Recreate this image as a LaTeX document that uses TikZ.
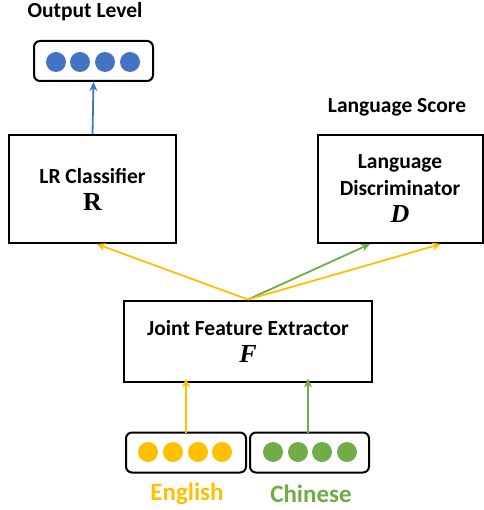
\documentclass[tikz,border=0pt]{standalone}
\usepackage{amsmath,amssymb}
\usepackage{fontspec}
\setmainfont{Carlito}
\newfontfamily\symserif{Liberation Serif}
\usetikzlibrary{arrows.meta}

\definecolor{outblue}{HTML}{4472C4}
\definecolor{enyellow}{HTML}{FFC000}
\definecolor{zhgreen}{HTML}{70AD47}

\newcommand{\modsym}[1]{{\symserif\fontsize{26}{27}\selectfont\bfseries #1}}

\tikzset{
  block/.style={draw, line width=2pt, minimum width=#1, align=center, font=\fontsize{21.5}{27}\selectfont\bfseries},
  vecbox/.style={draw, line width=2pt, rounded corners=6pt, minimum width=120pt, minimum height=40pt},
  flow/.style={line width=1.8pt, -{Stealth[length=9pt,width=8pt]}},
  tag/.style={font=\fontsize{21.5}{25}\selectfont\bfseries}
}

\begin{document}
\begin{tikzpicture}[x=1pt,y=-1pt]
\useasboundingbox (0,0) rectangle (483,510);
% top output
\node[tag] (outlbl) at (85,12) {Output Level};
\node[vecbox, minimum width=119pt] (outvec) at (93.5,61) {};
\foreach \x in {56,80,105,130} \fill[outblue] (\x,62) circle (10);
% classifiers
\node[block=167pt, minimum height=108pt] (lr) at (92.5,189) {LR Classifier\\ \modsym{R}};
\node[block=165pt, minimum height=108pt] (ld) at (400,189) {Language\\ Discriminator\\ \modsym{\itshape D}};
\node[tag] (scorelbl) at (397,107) {Language Score};
% feature extractor
\node[block=248pt, minimum height=81pt] (jfe) at (248,341) {Joint Feature Extractor\\ \modsym{\itshape F}};
% inputs
\node[vecbox] (envec) at (186,452.5) {};
\node[vecbox, minimum width=119pt] (zhvec) at (309.5,452.5) {};
\foreach \x in {148,173,198,222} \fill[enyellow] (\x,452) circle (10);
\foreach \x in {273,298,322,347} \fill[zhgreen] (\x,452) circle (10);
\node[tag, text=enyellow, font=\fontsize{25}{28}\selectfont\bfseries] (enlbl) at (187,494) {English};
\node[tag, text=zhgreen, font=\fontsize{25}{28}\selectfont\bfseries] (zhlbl) at (311,494) {Chinese};
% connectors
\draw[flow, outblue] (lr.north) -- (outvec.south);
\draw[flow, enyellow] ([yshift=-1pt]envec.north) -- ([yshift=4pt]jfe.south -| envec.north);
\draw[flow, zhgreen] ([yshift=-1pt]zhvec.north -| 308,0) -- ([yshift=4pt]jfe.south -| 308,0);
\draw[flow, enyellow] (jfe.north) -- ([xshift=4pt]lr.south);
\draw[flow, zhgreen] (jfe.north) -- ([xshift=-30pt]ld.south);
\draw[flow, enyellow] (jfe.north) -- ([xshift=41pt]ld.south);
\end{tikzpicture}
\end{document}
